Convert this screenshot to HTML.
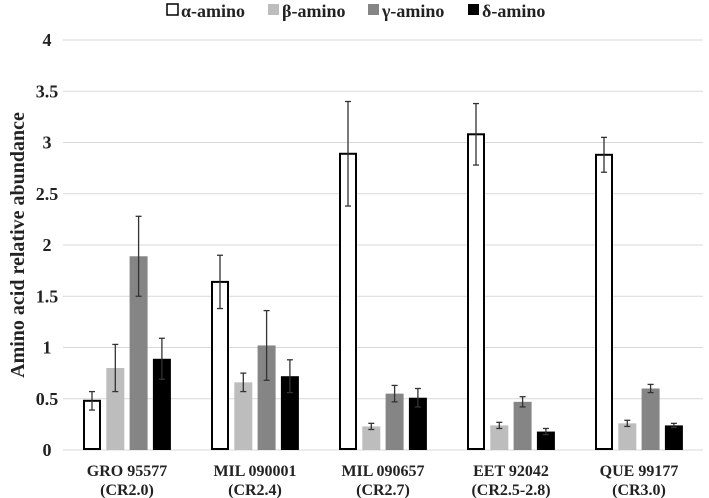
<!DOCTYPE html>
<html><head><meta charset="utf-8"><style>
body{margin:0;background:#fff;}
svg{display:block;font-family:"Liberation Serif",serif;font-weight:bold;}
</style></head><body>
<svg id="chart" width="709" height="498">
<g id="grid"></g><g id="bars"></g><g id="labels"></g>
<text transform="translate(24,245) rotate(-90)" text-anchor="middle" font-size="20" fill="#222">Amino acid relative abundance</text>
<g font-size="18" fill="#222">
<g><rect x="167" y="4" width="11" height="11" fill="#fff" stroke="#000" stroke-width="1.5"/><text x="181" y="17">α-amino</text></g>
<g><rect x="268" y="4" width="11" height="11" fill="#bdbdbd"/><text x="282" y="17">β-amino</text></g>
<g><rect x="368" y="4" width="11" height="11" fill="#858585"/><text x="382" y="17">γ-amino</text></g>
<g><rect x="468" y="4" width="11" height="11" fill="#000"/><text x="482" y="17">δ-amino</text></g>
</g>
</svg>
<script>
const categories=["GRO 95577","MIL 090001","MIL 090657","EET 92042","QUE 99177"];
const subLabels=["(CR2.0)","(CR2.4)","(CR2.7)","(CR2.5-2.8)","(CR3.0)"];
const alphaVals=[0.48,1.64,2.89,3.08,2.88];
const alphaErr=[0.09,0.26,0.51,0.30,0.17];
const betaVals=[0.80,0.66,0.23,0.24,0.26];
const betaErr=[0.23,0.09,0.03,0.03,0.03];
const gammaVals=[1.89,1.02,0.55,0.47,0.60];
const gammaErr=[0.39,0.34,0.08,0.05,0.04];
const deltaVals=[0.89,0.72,0.51,0.18,0.24];
const deltaErr=[0.20,0.16,0.09,0.03,0.02];
const yTicks=[0,0.5,1,1.5,2,2.5,3,3.5,4];
const NS="http://www.w3.org/2000/svg";
const x0=63,x1=703,y0=450,yTop=40;
const y=v=>y0-(v/4)*(y0-yTop);
const catW=(x1-x0)/categories.length;
const xc=i=>x0+catW*(i+0.5);
function mk(t,a,p){const e=document.createElementNS(NS,t);for(const k in a)e.setAttribute(k,a[k]);p.appendChild(e);return e;}
const grid=document.getElementById('grid'),bars=document.getElementById('bars'),labels=document.getElementById('labels');
yTicks.forEach(t=>{
 const l=mk('line',{x1:x0,x2:x1,y1:y(t),y2:y(t),stroke:'#d9d9d9','stroke-width':1},grid);
 
 
 const tx=mk('text',{x:47,y:y(t)+6,'text-anchor':'middle','font-size':18,fill:'#222'},labels);
 tx.textContent=t;
 
 
});
const series=[[alphaVals,alphaErr,'#fff','alpha'],[betaVals,betaErr,'#bdbdbd','beta'],[gammaVals,gammaErr,'#858585','gamma'],[deltaVals,deltaErr,'#000','delta']];
const bw=18,step=23.3;
categories.forEach((c,i)=>{
 series.forEach((s,j)=>{
  const bx=xc(i)-44+j*step, v=s[0][i], e=s[1][i];
  const r=mk('rect',{x:bx,y:y(v),width:bw,height:y0-y(v),fill:s[2]},bars);
  if(j===0){r.setAttribute('stroke','#000');r.setAttribute('stroke-width','2');r.setAttribute('x',bx+1);r.setAttribute('width',bw-2);r.setAttribute('height',y0-y(v)-1);}
  
  
  const cx=bx+bw/2;
  const g=mk('g',{stroke:'#333','stroke-width':1.3},bars);
  
  
  mk('line',{x1:cx,x2:cx,y1:y(v+e),y2:y(v-e)},g);
  mk('line',{x1:cx-3,x2:cx+3,y1:y(v+e),y2:y(v+e)},g);
  mk('line',{x1:cx-3,x2:cx+3,y1:y(v-e),y2:y(v-e)},g);
 });
 const t1=mk('text',{x:xc(i),y:476,'text-anchor':'middle','font-size':16,fill:'#222'},labels);
 t1.textContent=c;
 
 
 const t2=mk('text',{x:xc(i),y:495,'text-anchor':'middle','font-size':16,fill:'#222'},labels);
 t2.textContent=subLabels[i];
 
 
});
</script>
</body></html>
